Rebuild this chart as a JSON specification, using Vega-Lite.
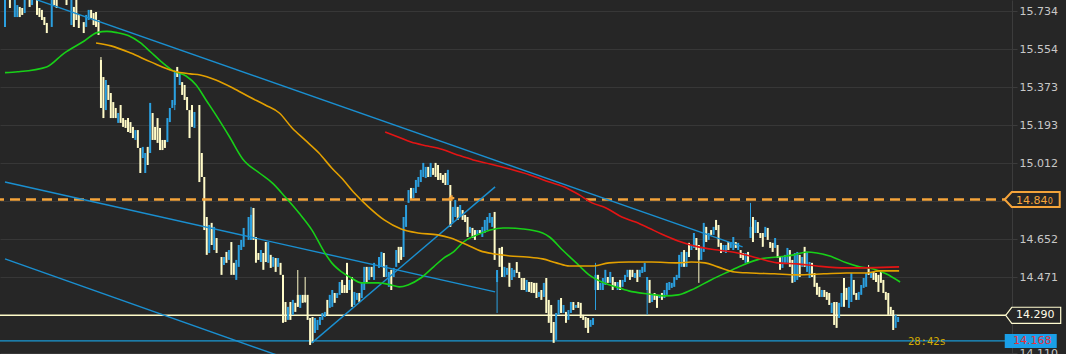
{
"$schema": "https://vega.github.io/schema/vega-lite/v6.json",
"width": 1012, "height": 354,
"autosize": "none",
"padding": {"left": 0, "top": 0, "right": 54, "bottom": 0},
"background": "#262626",
"config": {"view": {"stroke": null}},
"data": {"values": [{"k": 1}]},
"datasets": {
"candles": [
{"i":0,"o":15.660,"c":15.790},{"i":2,"o":15.790,"c":15.750},{"i":4,"o":15.707,"c":15.790},{"i":5,"o":15.707,"c":15.764},{"i":6,"o":15.755,"c":15.707},{"i":7,"o":15.750,"c":15.717},{"i":8,"o":15.726,"c":15.790},{"i":10,"o":15.790,"c":15.755},{"i":11,"o":15.764,"c":15.790},{"i":13,"o":15.790,"c":15.717},{"i":14,"o":15.750,"c":15.707},{"i":15,"o":15.741,"c":15.693},{"i":16,"o":15.707,"c":15.669},{"i":17,"o":15.679,"c":15.631},{"i":19,"o":15.660,"c":15.790},{"i":20,"o":15.790,"c":15.764},{"i":21,"o":15.790,"c":15.750},{"i":25,"o":15.790,"c":15.764},{"i":27,"o":15.669,"c":15.790},{"i":28,"o":15.755,"c":15.660},{"i":29,"o":15.790,"c":15.693},{"i":30,"o":15.717,"c":15.655},{"i":32,"o":15.683,"c":15.631},{"i":33,"o":15.660,"c":15.717},{"i":34,"o":15.693,"c":15.741},{"i":35,"o":15.741,"c":15.702},{"i":36,"o":15.726,"c":15.669},{"i":37,"o":15.731,"c":15.660},{"i":38,"o":15.693,"c":15.622},
{"i":39,"o":15.503,"c":15.275,"h":15.517,"l":15.275},{"i":40,"o":15.422,"c":15.227},{"i":41,"o":15.265,"c":15.408},{"i":42,"o":15.384,"c":15.313},{"i":43,"o":15.346,"c":15.227},{"i":44,"o":15.303,"c":15.227},{"i":45,"o":15.275,"c":15.227},{"i":46,"o":15.204,"c":15.251},{"i":47,"o":15.289,"c":15.204},{"i":48,"o":15.227,"c":15.185},{"i":49,"o":15.218,"c":15.180},{"i":50,"o":15.227,"c":15.161},{"i":51,"o":15.208,"c":15.156},{"i":52,"o":15.185,"c":15.132},{"i":53,"o":15.123,"c":15.170},{"i":54,"o":15.170,"c":15.085},{"i":55,"o":15.085,"c":14.966},{"i":56,"o":15.037,"c":15.090},{"i":57,"o":14.966,"c":15.061},{"i":58,"o":15.090,"c":15.004},{"i":59,"o":15.061,"c":15.299},{"i":60,"o":15.251,"c":15.123},{"i":61,"o":15.185,"c":15.123},{"i":62,"o":15.227,"c":15.109},{"i":63,"o":15.180,"c":15.075},{"i":64,"o":15.123,"c":15.075},{"i":65,"o":15.123,"c":15.085},{"i":66,"o":15.113,"c":15.227},{"i":67,"o":15.208,"c":15.275},{"i":68,"o":15.275,"c":15.313},{"i":69,"o":15.289,"c":15.446,"h":15.455,"l":15.265},{"i":70,"o":15.470,"c":15.422},{"i":71,"o":15.384,"c":15.441},{"i":72,"o":15.398,"c":15.337},{"i":73,"o":15.384,"c":15.313},{"i":74,"o":15.327,"c":15.265},{"i":75,"o":15.265,"c":15.132},{"i":76,"o":15.289,"c":15.185},{"i":77,"o":15.180,"c":15.256},{"i":79,"o":15.289,"c":14.923},{"i":80,"o":15.061,"c":14.947},{"i":81,"o":14.947,"c":14.695},{"i":82,"o":14.757,"c":14.577},{"i":83,"o":14.586,"c":14.719},{"i":84,"o":14.729,"c":14.624},{"i":85,"o":14.600,"c":14.710},{"i":86,"o":14.657,"c":14.586},{"i":88,"o":14.567,"c":14.482},{"i":89,"o":14.529,"c":14.567},{"i":90,"o":14.591,"c":14.539},{"i":91,"o":14.553,"c":14.600},{"i":92,"o":14.638,"c":14.482},{"i":93,"o":14.539,"c":14.482},{"i":94,"o":14.458,"c":14.553},{"i":95,"o":14.520,"c":14.624},{"i":96,"o":14.600,"c":14.648},{"i":97,"o":14.615,"c":14.705},{"i":99,"o":14.648,"c":14.757},{"i":100,"o":14.648,"c":14.767,"h":14.805,"l":14.648},{"i":101,"o":14.800,"c":14.648},{"i":102,"o":14.662,"c":14.539},{"i":103,"o":14.586,"c":14.553},{"i":104,"o":14.543,"c":14.600},{"i":105,"o":14.586,"c":14.506},{"i":106,"o":14.638,"c":14.543},{"i":107,"o":14.539,"c":14.638},{"i":108,"o":14.577,"c":14.515},{"i":109,"o":14.520,"c":14.567},{"i":110,"o":14.562,"c":14.496},{"i":111,"o":14.520,"c":14.562},{"i":112,"o":14.539,"c":14.482},{"i":113,"o":14.482,"c":14.254},{"i":114,"o":14.353,"c":14.258},{"i":115,"o":14.268,"c":14.330},{"i":116,"o":14.353,"c":14.268},{"i":117,"o":14.292,"c":14.363},{"i":118,"o":14.349,"c":14.306},{"i":119,"o":14.387,"c":14.330,"h":14.505,"l":14.330},{"i":120,"o":14.325,"c":14.387},{"i":121,"o":14.387,"c":14.349},{"i":122,"o":14.387,"c":14.353,"h":14.472,"l":14.349},{"i":123,"o":14.387,"c":14.268},{"i":124,"o":14.277,"c":14.149},{"i":125,"o":14.282,"c":14.159},{"i":126,"o":14.206,"c":14.277},{"i":127,"o":14.220,"c":14.268},{"i":128,"o":14.244,"c":14.282},{"i":129,"o":14.268,"c":14.301},{"i":130,"o":14.282,"c":14.306},{"i":131,"o":14.363,"c":14.292},{"i":132,"o":14.325,"c":14.387},{"i":133,"o":14.330,"c":14.410},{"i":134,"o":14.396,"c":14.349},{"i":135,"o":14.372,"c":14.396},{"i":136,"o":14.387,"c":14.448},
{"i":137,"o":14.458,"c":14.396},{"i":138,"o":14.434,"c":14.396},{"i":139,"o":14.539,"c":14.396},{"i":140,"o":14.410,"c":14.458},{"i":141,"o":14.472,"c":14.330},{"i":142,"o":14.339,"c":14.401},{"i":143,"o":14.363,"c":14.396},{"i":144,"o":14.396,"c":14.353},{"i":145,"o":14.372,"c":14.448},{"i":146,"o":14.410,"c":14.520},{"i":147,"o":14.520,"c":14.448},{"i":148,"o":14.458,"c":14.520},{"i":149,"o":14.520,"c":14.472},{"i":150,"o":14.458,"c":14.539},{"i":152,"o":14.515,"c":14.567},{"i":153,"o":14.520,"c":14.591},{"i":154,"o":14.586,"c":14.472},{"i":155,"o":14.472,"c":14.529},{"i":156,"o":14.425,"c":14.496},{"i":157,"o":14.506,"c":14.410},{"i":158,"o":14.472,"c":14.515},{"i":159,"o":14.520,"c":14.600},{"i":160,"o":14.615,"c":14.539},{"i":161,"o":14.615,"c":14.553},{"i":162,"o":14.567,"c":14.757},{"i":163,"o":14.710,"c":14.814},{"i":164,"o":14.824,"c":14.885},{"i":165,"o":14.895,"c":14.838},{"i":166,"o":14.847,"c":14.895},{"i":167,"o":14.871,"c":14.933},{"i":168,"o":14.900,"c":14.947},{"i":169,"o":14.923,"c":14.981},{"i":170,"o":14.947,"c":15.014},{"i":171,"o":14.942,"c":14.995},{"i":172,"o":14.995,"c":14.947},{"i":173,"o":14.947,"c":15.014},{"i":174,"o":14.990,"c":14.957},{"i":175,"o":15.014,"c":14.947},{"i":176,"o":15.004,"c":14.933},{"i":177,"o":14.966,"c":14.933},{"i":178,"o":14.957,"c":14.919},{"i":179,"o":14.966,"c":14.909},{"i":180,"o":14.909,"c":14.981},{"i":181,"o":14.909,"c":14.710},{"i":182,"o":14.733,"c":14.805},{"i":183,"o":14.757,"c":14.838},{"i":184,"o":14.805,"c":14.743},{"i":185,"o":14.757,"c":14.814},{"i":186,"o":14.790,"c":14.743},{"i":187,"o":14.767,"c":14.733},{"i":188,"o":14.757,"c":14.662},{"i":189,"o":14.681,"c":14.710},{"i":190,"o":14.705,"c":14.657},{"i":191,"o":14.695,"c":14.648},{"i":192,"o":14.672,"c":14.695},{"i":193,"o":14.695,"c":14.681},{"i":194,"o":14.662,"c":14.710},{"i":195,"o":14.681,"c":14.743},{"i":196,"o":14.695,"c":14.757},{"i":197,"o":14.729,"c":14.776},{"i":198,"o":14.710,"c":14.757},{"i":199,"o":14.781,"c":14.553},{"i":200,"o":14.448,"c":14.505,"h":14.505,"l":14.301},{"i":201,"o":14.610,"c":14.520},{"i":202,"o":14.615,"c":14.472},{"i":203,"o":14.472,"c":14.520},{"i":204,"o":14.482,"c":14.515},{"i":205,"o":14.539,"c":14.425},
{"i":206,"o":14.458,"c":14.515},{"i":207,"o":14.472,"c":14.506},{"i":208,"o":14.543,"c":14.491},{"i":209,"o":14.496,"c":14.467},{"i":210,"o":14.467,"c":14.410},{"i":211,"o":14.467,"c":14.410},{"i":212,"o":14.401,"c":14.458},{"i":213,"o":14.448,"c":14.401},{"i":214,"o":14.448,"c":14.396},{"i":215,"o":14.444,"c":14.396},{"i":216,"o":14.444,"c":14.372},{"i":217,"o":14.377,"c":14.401},{"i":218,"o":14.410,"c":14.363},{"i":219,"o":14.377,"c":14.444},{"i":220,"o":14.467,"c":14.301},{"i":221,"o":14.363,"c":14.254},{"i":222,"o":14.339,"c":14.206},{"i":223,"o":14.258,"c":14.159},{"i":224,"o":14.173,"c":14.301},{"i":225,"o":14.292,"c":14.363},{"i":226,"o":14.372,"c":14.301},{"i":227,"o":14.301,"c":14.339},{"i":228,"o":14.306,"c":14.254},{"i":229,"o":14.268,"c":14.315},{"i":230,"o":14.301,"c":14.353},{"i":231,"o":14.353,"c":14.315},{"i":232,"o":14.325,"c":14.339},{"i":233,"o":14.353,"c":14.325},{"i":234,"o":14.349,"c":14.277},{"i":235,"o":14.292,"c":14.268},{"i":236,"o":14.282,"c":14.230},{"i":237,"o":14.277,"c":14.206},{"i":238,"o":14.235,"c":14.268},{"i":239,"o":14.244,"c":14.277},{"i":240,"o":14.410,"c":14.482,"h":14.539,"l":14.315},{"i":241,"o":14.482,"c":14.410},{"i":242,"o":14.410,"c":14.444},{"i":243,"o":14.410,"c":14.467},{"i":244,"o":14.434,"c":14.506},{"i":245,"o":14.472,"c":14.444},{"i":246,"o":14.444,"c":14.496},{"i":247,"o":14.472,"c":14.410},{"i":248,"o":14.448,"c":14.425},{"i":249,"o":14.410,"c":14.448},{"i":250,"o":14.458,"c":14.410},{"i":251,"o":14.425,"c":14.458},{"i":252,"o":14.448,"c":14.482},{"i":253,"o":14.472,"c":14.506},{"i":254,"o":14.506,"c":14.458},{"i":255,"o":14.506,"c":14.472},{"i":256,"o":14.467,"c":14.491},{"i":257,"o":14.506,"c":14.448},{"i":258,"o":14.472,"c":14.506},{"i":259,"o":14.491,"c":14.520},{"i":260,"o":14.496,"c":14.539},{"i":261,"o":14.410,"c":14.472,"h":14.472,"l":14.292},{"i":262,"o":14.458,"c":14.349},{"i":263,"o":14.353,"c":14.387},{"i":264,"o":14.396,"c":14.363},{"i":265,"o":14.387,"c":14.325},{"i":266,"o":14.372,"c":14.387},{"i":267,"o":14.396,"c":14.363},{"i":268,"o":14.372,"c":14.410},{"i":269,"o":14.387,"c":14.444},{"i":270,"o":14.410,"c":14.448},{"i":271,"o":14.420,"c":14.444},{"i":272,"o":14.425,"c":14.472},{"i":273,"o":14.458,"c":14.482},{"i":274,"o":14.467,"c":14.577},{"i":275,"o":14.520,"c":14.591},
{"i":276,"o":14.600,"c":14.520},{"i":277,"o":14.520,"c":14.591},{"i":278,"o":14.634,"c":14.567},{"i":279,"o":14.600,"c":14.624},{"i":280,"o":14.610,"c":14.681},{"i":281,"o":14.657,"c":14.600},{"i":282,"o":14.624,"c":14.553,"h":14.624,"l":14.444},{"i":283,"o":14.553,"c":14.615},{"i":284,"o":14.591,"c":14.729},{"i":285,"o":14.710,"c":14.638},{"i":286,"o":14.648,"c":14.681},{"i":287,"o":14.695,"c":14.672},{"i":288,"o":14.672,"c":14.710},{"i":289,"o":14.743,"c":14.695},{"i":290,"o":14.719,"c":14.615},{"i":291,"o":14.634,"c":14.586},{"i":292,"o":14.591,"c":14.624},{"i":293,"o":14.586,"c":14.624},{"i":294,"o":14.638,"c":14.600},{"i":295,"o":14.610,"c":14.638},{"i":296,"o":14.600,"c":14.662},{"i":297,"o":14.638,"c":14.610},{"i":298,"o":14.600,"c":14.634},{"i":299,"o":14.600,"c":14.562},{"i":300,"o":14.586,"c":14.553},{"i":301,"o":14.539,"c":14.586},{"i":302,"o":14.591,"c":14.539},{"i":303,"o":14.657,"c":14.710,"h":14.824,"l":14.657},{"i":304,"o":14.757,"c":14.638},{"i":305,"o":14.681,"c":14.743},{"i":306,"o":14.733,"c":14.681},{"i":307,"o":14.681,"c":14.657},{"i":308,"o":14.681,"c":14.615},{"i":309,"o":14.662,"c":14.710},{"i":310,"o":14.705,"c":14.648},{"i":311,"o":14.638,"c":14.610},{"i":312,"o":14.634,"c":14.591},{"i":313,"o":14.610,"c":14.657},{"i":314,"o":14.624,"c":14.562},{"i":315,"o":14.567,"c":14.506},{"i":316,"o":14.515,"c":14.567},{"i":317,"o":14.539,"c":14.577},{"i":318,"o":14.539,"c":14.610},{"i":319,"o":14.600,"c":14.520},{"i":320,"o":14.553,"c":14.444},{"i":321,"o":14.448,"c":14.586},{"i":322,"o":14.458,"c":14.591},{"i":323,"o":14.577,"c":14.472},{"i":324,"o":14.520,"c":14.567},{"i":325,"o":14.615,"c":14.520},{"i":326,"o":14.496,"c":14.591},{"i":327,"o":14.467,"c":14.543},{"i":328,"o":14.539,"c":14.472},{"i":329,"o":14.491,"c":14.425},{"i":330,"o":14.444,"c":14.387},{"i":331,"o":14.425,"c":14.377},{"i":332,"o":14.377,"c":14.410},{"i":333,"o":14.410,"c":14.377},{"i":334,"o":14.401,"c":14.363},{"i":335,"o":14.396,"c":14.339},{"i":336,"o":14.301,"c":14.349},{"i":337,"o":14.353,"c":14.244},{"i":338,"o":14.353,"c":14.230},{"i":339,"o":14.277,"c":14.349},{"i":340,"o":14.330,"c":14.396},{"i":341,"o":14.467,"c":14.330},{"i":342,"o":14.420,"c":14.363},{"i":343,"o":14.325,"c":14.425},
{"i":344,"o":14.353,"c":14.491},{"i":345,"o":14.458,"c":14.387},{"i":346,"o":14.396,"c":14.363},{"i":347,"o":14.363,"c":14.401},{"i":348,"o":14.387,"c":14.434},{"i":349,"o":14.420,"c":14.467},{"i":350,"o":14.425,"c":14.491},{"i":351,"o":14.515,"c":14.482,"h":14.529,"l":14.482},{"i":352,"o":14.467,"c":14.496},{"i":353,"o":14.496,"c":14.458},{"i":354,"o":14.491,"c":14.448},{"i":355,"o":14.482,"c":14.401},{"i":356,"o":14.496,"c":14.444},{"i":357,"o":14.458,"c":14.396},{"i":358,"o":14.401,"c":14.363},{"i":359,"o":14.396,"c":14.292},{"i":360,"o":14.330,"c":14.292},{"i":361,"o":14.315,"c":14.220},{"i":362,"o":14.230,"c":14.292},{"i":363,"o":14.258,"c":14.282}
],
"ma": [
{"s":"ma1","i":0,"p":15.443},{"s":"ma1","i":5.2,"p":15.447},{"s":"ma1","i":16.9,"p":15.470},{"s":"ma1","i":24.1,"p":15.536},{"s":"ma1","i":32.2,"p":15.593},{"s":"ma1","i":37.4,"p":15.633},{"s":"ma1","i":41.4,"p":15.639},{"s":"ma1","i":45.5,"p":15.633},{"s":"ma1","i":50.3,"p":15.618},{"s":"ma1","i":55.1,"p":15.584},{"s":"ma1","i":59.2,"p":15.541},{"s":"ma1","i":63.6,"p":15.494},{"s":"ma1","i":68.4,"p":15.451},{"s":"ma1","i":73.6,"p":15.427},{"s":"ma1","i":77.7,"p":15.384},{"s":"ma1","i":81.7,"p":15.313},{"s":"ma1","i":85.7,"p":15.242},{"s":"ma1","i":91.3,"p":15.137},{"s":"ma1","i":96.6,"p":15.033},{"s":"ma1","i":103.4,"p":14.966},{"s":"ma1","i":108.6,"p":14.919},{"s":"ma1","i":113.9,"p":14.852},{"s":"ma1","i":119.5,"p":14.776},{"s":"ma1","i":124.7,"p":14.696},{"s":"ma1","i":130.0,"p":14.586},{"s":"ma1","i":132.8,"p":14.539},{"s":"ma1","i":136.8,"p":14.496},{"s":"ma1","i":140.8,"p":14.467},{"s":"ma1","i":144.9,"p":14.444},{"s":"ma1","i":151.7,"p":14.444},{"s":"ma1","i":156.9,"p":14.434},{"s":"ma1","i":160.2,"p":14.425},{"s":"ma1","i":163.8,"p":14.434},{"s":"ma1","i":169.0,"p":14.467},{"s":"ma1","i":174.2,"p":14.520},{"s":"ma1","i":178.3,"p":14.562},{"s":"ma1","i":182.3,"p":14.591},{"s":"ma1","i":186.3,"p":14.638},{"s":"ma1","i":191.9,"p":14.672},{"s":"ma1","i":197.2,"p":14.695},{"s":"ma1","i":202.4,"p":14.705},{"s":"ma1","i":210.5,"p":14.700},{"s":"ma1","i":218.5,"p":14.681},{"s":"ma1","i":221.3,"p":14.662},{"s":"ma1","i":226.6,"p":14.600},{"s":"ma1","i":232.2,"p":14.539},{"s":"ma1","i":237.4,"p":14.482},{"s":"ma1","i":242.6,"p":14.448},{"s":"ma1","i":248.3,"p":14.425},{"s":"ma1","i":253.5,"p":14.406},{"s":"ma1","i":261.6,"p":14.391},{"s":"ma1","i":268.4,"p":14.382},{"s":"ma1","i":273.6,"p":14.387},{"s":"ma1","i":278.9,"p":14.410},{"s":"ma1","i":286.9,"p":14.458},{"s":"ma1","i":293.8,"p":14.496},{"s":"ma1","i":299.0,"p":14.524},{"s":"ma1","i":307.0,"p":14.558},{"s":"ma1","i":313.9,"p":14.567},{"s":"ma1","i":320.7,"p":14.577},{"s":"ma1","i":325.9,"p":14.591},{"s":"ma1","i":330.0,"p":14.586},{"s":"ma1","i":335.2,"p":14.572},{"s":"ma1","i":342.0,"p":14.539},{"s":"ma1","i":347.3,"p":14.520},{"s":"ma1","i":352.9,"p":14.510},{"s":"ma1","i":358.1,"p":14.487},{"s":"ma1","i":363.8,"p":14.448},
{"s":"ma2","i":37.0,"p":15.584},{"s":"ma2","i":43.1,"p":15.570},{"s":"ma2","i":51.1,"p":15.536},{"s":"ma2","i":59.2,"p":15.494},{"s":"ma2","i":68.4,"p":15.451},{"s":"ma2","i":75.3,"p":15.437},{"s":"ma2","i":79.3,"p":15.432},{"s":"ma2","i":85.7,"p":15.408},{"s":"ma2","i":92.6,"p":15.370},{"s":"ma2","i":99.4,"p":15.327},{"s":"ma2","i":105.8,"p":15.289},{"s":"ma2","i":111.5,"p":15.251},{"s":"ma2","i":116.7,"p":15.180},{"s":"ma2","i":121.9,"p":15.123},{"s":"ma2","i":127.6,"p":15.061},{"s":"ma2","i":132.8,"p":14.990},{"s":"ma2","i":136.8,"p":14.942},{"s":"ma2","i":142.0,"p":14.871},{"s":"ma2","i":147.7,"p":14.805},{"s":"ma2","i":154.1,"p":14.743},{"s":"ma2","i":161.0,"p":14.700},{"s":"ma2","i":167.8,"p":14.681},{"s":"ma2","i":175.9,"p":14.672},{"s":"ma2","i":181.1,"p":14.657},{"s":"ma2","i":187.9,"p":14.624},{"s":"ma2","i":193.2,"p":14.596},{"s":"ma2","i":198.4,"p":14.582},{"s":"ma2","i":205.2,"p":14.572},{"s":"ma2","i":212.1,"p":14.567},{"s":"ma2","i":218.5,"p":14.558},{"s":"ma2","i":224.1,"p":14.539},{"s":"ma2","i":229.4,"p":14.524},{"s":"ma2","i":238.6,"p":14.524},{"s":"ma2","i":245.5,"p":14.539},{"s":"ma2","i":253.5,"p":14.543},{"s":"ma2","i":262.8,"p":14.543},{"s":"ma2","i":273.6,"p":14.539},{"s":"ma2","i":278.9,"p":14.543},{"s":"ma2","i":284.5,"p":14.539},{"s":"ma2","i":289.7,"p":14.520},{"s":"ma2","i":296.6,"p":14.496},{"s":"ma2","i":303.0,"p":14.491},{"s":"ma2","i":312.7,"p":14.487},{"s":"ma2","i":321.9,"p":14.482},{"s":"ma2","i":332.8,"p":14.487},{"s":"ma2","i":342.0,"p":14.491},{"s":"ma2","i":350.1,"p":14.491},{"s":"ma2","i":355.3,"p":14.501},{"s":"ma2","i":363.4,"p":14.501},
{"s":"ma3","i":154.5,"p":15.161},{"s":"ma3","i":159.8,"p":15.137},{"s":"ma3","i":165.0,"p":15.113},{"s":"ma3","i":171.8,"p":15.094},{"s":"ma3","i":177.1,"p":15.080},{"s":"ma3","i":183.9,"p":15.052},{"s":"ma3","i":190.3,"p":15.028},{"s":"ma3","i":197.2,"p":15.009},{"s":"ma3","i":205.2,"p":14.985},{"s":"ma3","i":213.3,"p":14.957},{"s":"ma3","i":221.3,"p":14.923},{"s":"ma3","i":228.2,"p":14.895},{"s":"ma3","i":233.4,"p":14.862},{"s":"ma3","i":238.6,"p":14.824},{"s":"ma3","i":244.3,"p":14.800},{"s":"ma3","i":250.7,"p":14.757},{"s":"ma3","i":256.3,"p":14.733},{"s":"ma3","i":261.6,"p":14.705},{"s":"ma3","i":266.8,"p":14.676},{"s":"ma3","i":273.6,"p":14.643},{"s":"ma3","i":281.7,"p":14.615},{"s":"ma3","i":289.7,"p":14.600},{"s":"ma3","i":297.8,"p":14.586},{"s":"ma3","i":305.8,"p":14.562},{"s":"ma3","i":313.9,"p":14.539},{"s":"ma3","i":321.9,"p":14.534},{"s":"ma3","i":330.0,"p":14.524},{"s":"ma3","i":342.0,"p":14.515},{"s":"ma3","i":363.4,"p":14.520}
],
"trend": [
{"s":"t1","i":0,"p":15.842},{"s":"t1","i":299.8,"p":14.615},
{"s":"t2","i":0,"p":14.923},{"s":"t2","i":199.2,"p":14.401},
{"s":"t3","i":0,"p":14.558},{"s":"t3","i":120.7,"p":14.059},
{"s":"t4","i":124.7,"p":14.159},{"s":"t4","i":199.2,"p":14.900}
]
},
"layer": [
{"mark": {"type": "rule", "color": "#fffbc8", "strokeWidth": 1.5},
 "encoding": {"y": {"datum": 14.29, "type": "quantitative",
   "scale": {"domain": [14.106, 15.788], "nice": false, "zero": false},
   "axis": {"orient": "right", "values": [14.11, 14.29, 14.471, 14.652, 14.832, 15.012, 15.193, 15.373, 15.554, 15.734],
     "tickCount": 30,
     "labelExpr": "datum.value == 14.832 || datum.value == 14.29 ? '' : format(datum.value, '.3f')",
     "title": null, "grid": true, "gridColor": "#373737", "gridWidth": 1,
     "domain": true, "domainColor": "#3c3c3c", "tickColor": "#3c3c3c", "tickSize": 5,
     "labelColor": "#c8c8c8", "labelFont": "DejaVu Sans", "labelFontSize": 11, "labelPadding": 2,
     "labelFlush": false, "labelOverlap": false, "labelBound": false}}}},
{"mark": {"type": "rule", "color": "#1a9ad6", "strokeWidth": 1.2},
 "encoding": {"y": {"datum": 14.168, "type": "quantitative"}}},
{"data": {"name": "candles"},
 "mark": {"type": "rule", "strokeWidth": 1, "clip": true},
 "encoding": {
   "x": {"field": "i", "type": "quantitative", "scale": {"domain": [0, 407.25], "nice": false, "zero": false}, "axis": null},
   "y": {"field": "l", "type": "quantitative"},
   "y2": {"field": "h"},
   "color": {"condition": {"test": "datum.c >= datum.o", "value": "#2ba0e0"}, "value": "#fffbc8"}}},
{"data": {"name": "candles"},
 "mark": {"type": "bar", "width": 2, "clip": true},
 "encoding": {
   "x": {"field": "i", "type": "quantitative", "axis": null},
   "y": {"field": "o", "type": "quantitative"},
   "y2": {"field": "c"},
   "color": {"condition": {"test": "datum.c >= datum.o", "value": "#2ba0e0"}, "value": "#fffbc8"}}},
{"mark": {"type": "rule", "color": "#f5a43a", "strokeWidth": 2.5, "strokeDash": [10, 6]},
 "encoding": {"y": {"datum": 14.84, "type": "quantitative"}}},
{"data": {"name": "trend"},
 "mark": {"type": "line", "color": "#1a8fd0", "strokeWidth": 1.4, "clip": true},
 "encoding": {
   "x": {"field": "i", "type": "quantitative", "axis": null},
   "y": {"field": "p", "type": "quantitative"},
   "detail": {"field": "s"}}},
{"data": {"name": "ma"},
 "mark": {"type": "line", "strokeWidth": 1.6, "interpolate": "monotone", "clip": true},
 "encoding": {
   "x": {"field": "i", "type": "quantitative", "axis": null},
   "y": {"field": "p", "type": "quantitative"},
   "color": {"field": "s", "type": "nominal", "scale": {"domain": ["ma1", "ma2", "ma3"], "range": ["#18d018", "#e3a000", "#e41414"]}, "legend": null}}},
{"mark": {"type": "point", "shape": "cross", "size": 30, "filled": true, "color": "#f5a43a", "opacity": 1},
 "encoding": {"x": {"datum": 181.5, "type": "quantitative", "axis": null}, "y": {"datum": 14.847, "type": "quantitative"}}},
{"mark": {"type": "point", "shape": "M-1,0L-0.745,-0.273L1,-0.273L1,0.273L-0.745,0.273Z", "size": 3025, "filled": true, "fill": "#262626", "stroke": "#f5a43a", "strokeWidth": 2, "opacity": 1},
 "encoding": {"x": {"datum": 417.5, "type": "quantitative", "axis": null}, "y": {"datum": 14.84, "type": "quantitative"}}},
{"mark": {"type": "point", "shape": "M-1,0L-0.78,-0.291L1,-0.291L1,0.291L-0.78,0.291Z", "size": 3025, "filled": true, "fill": "#262626", "stroke": "#fffbd0", "strokeWidth": 1.2, "opacity": 1},
 "encoding": {"x": {"datum": 417.9, "type": "quantitative", "axis": null}, "y": {"datum": 14.29, "type": "quantitative"}}},
{"mark": {"type": "point", "shape": "M-1,-0.269L1,-0.269L1,0.269L-1,0.269Z", "size": 2704, "filled": true, "fill": "#1a9fe8", "strokeWidth": 0, "opacity": 1},
 "encoding": {"x": {"datum": 416.9, "type": "quantitative", "axis": null}, "y": {"datum": 14.168, "type": "quantitative"}}},
{"mark": {"type": "text", "text": "14.84", "align": "left", "baseline": "alphabetic", "dy": 4, "font": "DejaVu Sans", "fontSize": 11, "color": "#f5a43a"},
 "encoding": {"x": {"datum": 410.9, "type": "quantitative", "axis": null}, "y": {"datum": 14.84, "type": "quantitative"}}},
{"mark": {"type": "text", "text": "0", "align": "left", "baseline": "alphabetic", "dy": 4, "font": "DejaVu Sans", "fontSize": 8, "color": "#f5a43a"},
 "encoding": {"x": {"datum": 423.8, "type": "quantitative", "axis": null}, "y": {"datum": 14.84, "type": "quantitative"}}},
{"mark": {"type": "text", "text": "14.290", "align": "left", "baseline": "middle", "font": "DejaVu Sans", "fontSize": 11, "color": "#fffbe8"},
 "encoding": {"x": {"datum": 410.9, "type": "quantitative", "axis": null}, "y": {"datum": 14.29, "type": "quantitative"}}},
{"mark": {"type": "text", "text": "14.168", "align": "left", "baseline": "middle", "font": "DejaVu Sans", "fontSize": 11, "color": "#e8303a"},
 "encoding": {"x": {"datum": 409.7, "type": "quantitative", "axis": null}, "y": {"datum": 14.168, "type": "quantitative"}}},
{"mark": {"type": "text", "text": "28:42s", "align": "left", "baseline": "middle", "dy": 1, "font": "DejaVu Sans Mono", "fontSize": 10.5, "color": "#d4aa00"},
 "encoding": {"x": {"datum": 367, "type": "quantitative", "axis": null}, "y": {"datum": 14.168, "type": "quantitative"}}}
]
}
